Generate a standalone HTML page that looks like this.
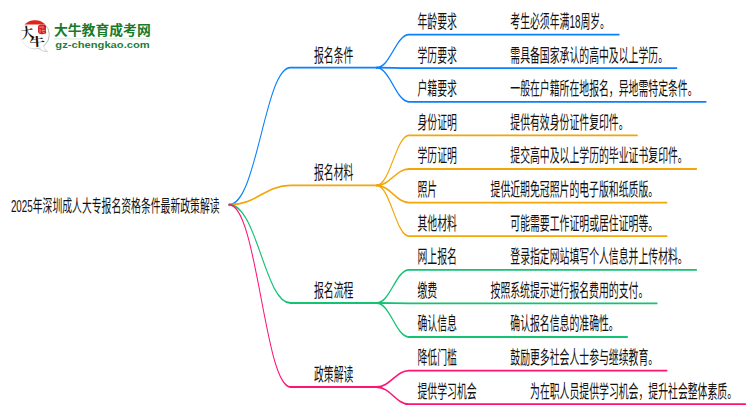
<!DOCTYPE html>
<html lang="zh-CN">
<head>
<meta charset="utf-8">
<title>2025年深圳成人大专报名资格条件最新政策解读</title>
<style>
html,body{margin:0;padding:0;background:#fff;}
body{width:750px;height:410px;position:relative;overflow:hidden;font-family:"Liberation Sans",sans-serif;}
svg{position:absolute;left:0;top:0;display:block;}
.t span{position:absolute;white-space:nowrap;color:transparent;line-height:1;overflow:hidden;height:12px;}
.ln path{fill:none;stroke-width:1.8;stroke-linecap:round;stroke-linejoin:round;}
.tx text{font-family:"Liberation Sans","Noto Sans CJK SC",sans-serif;fill:#111;}
</style>
</head>
<body>
<svg width="750" height="410" viewBox="0 0 750 410">
<g class="ln" transform="scale(0.55 1)">
<path d="M416.36 204.70 C467.80 204.70 481.22 67.70 528.18 67.70 L684.55 67.70" stroke="#0a80fc"/>
<path d="M684.55 67.70 C709.36 67.70 720.00 34.60 743.64 34.60 L1125.67 34.60" stroke="#0a80fc"/>
<path d="M684.55 67.70 C709.36 67.70 720.00 68.20 743.64 68.20 L1230.54 68.20" stroke="#0a80fc"/>
<path d="M684.55 67.70 C709.36 67.70 720.00 101.80 743.64 101.80 L1283.73 101.80" stroke="#0a80fc"/>
<path d="M416.36 204.70 C467.80 204.70 481.22 185.40 528.18 185.40 L684.55 185.40" stroke="#f2a60a"/>
<path d="M684.55 185.40 C709.36 185.40 720.00 135.40 743.64 135.40 L1158.76 135.40" stroke="#f2a60a"/>
<path d="M684.55 185.40 C709.36 185.40 720.00 169.00 743.64 169.00 L1266.43 169.00" stroke="#f2a60a"/>
<path d="M684.55 185.40 C709.36 185.40 720.00 202.60 743.64 202.60 L1212.59 202.60" stroke="#f2a60a"/>
<path d="M684.55 185.40 C709.36 185.40 720.00 236.20 743.64 236.20 L1212.59 236.20" stroke="#f2a60a"/>
<path d="M416.36 204.70 C467.80 204.70 481.22 303.00 528.18 303.00 L684.55 303.00" stroke="#14c274"/>
<path d="M684.55 303.00 C709.36 303.00 720.00 269.80 743.64 269.80 L1266.43 269.80" stroke="#14c274"/>
<path d="M684.55 303.00 C709.36 303.00 720.00 303.40 743.64 303.40 L1194.65 303.40" stroke="#14c274"/>
<path d="M684.55 303.00 C709.36 303.00 720.00 337.00 743.64 337.00 L1140.81 337.00" stroke="#14c274"/>
<path d="M416.36 204.70 C467.80 204.70 481.22 387.00 528.18 387.00 L684.55 387.00" stroke="#ff1476"/>
<path d="M684.55 387.00 C709.36 387.00 720.00 370.60 743.64 370.60 L1212.59 370.60" stroke="#ff1476"/>
<path d="M684.55 387.00 C709.36 387.00 720.00 404.20 743.64 404.20 L1355.51 404.20" stroke="#ff1476"/>
</g>
<g class="tx">
<text transform="translate(314.00 61.54) scale(0.5276 1)" font-size="18.7">报名条件</text>
<text transform="translate(417.50 28.04) scale(0.5276 1)" font-size="18.7">年龄要求</text>
<text transform="translate(510.28 28.04) scale(0.5276 1)" font-size="18.7">考生必须年满18周岁。</text>
<text transform="translate(417.50 61.64) scale(0.5276 1)" font-size="18.7">学历要求</text>
<text transform="translate(510.28 61.64) scale(0.5276 1)" font-size="18.7">需具备国家承认的高中及以上学历。</text>
<text transform="translate(417.50 95.24) scale(0.5276 1)" font-size="18.7">户籍要求</text>
<text transform="translate(510.28 95.24) scale(0.5276 1)" font-size="18.7">一般在户籍所在地报名，异地需特定条件。</text>
<text transform="translate(314.00 179.24) scale(0.5276 1)" font-size="18.7">报名材料</text>
<text transform="translate(417.50 128.84) scale(0.5276 1)" font-size="18.7">身份证明</text>
<text transform="translate(510.28 128.84) scale(0.5276 1)" font-size="18.7">提供有效身份证件复印件。</text>
<text transform="translate(417.50 162.44) scale(0.5276 1)" font-size="18.7">学历证明</text>
<text transform="translate(510.28 162.44) scale(0.5276 1)" font-size="18.7">提交高中及以上学历的毕业证书复印件。</text>
<text transform="translate(417.50 196.04) scale(0.5276 1)" font-size="18.7">照片</text>
<text transform="translate(490.54 196.04) scale(0.5276 1)" font-size="18.7">提供近期免冠照片的电子版和纸质版。</text>
<text transform="translate(417.50 229.64) scale(0.5276 1)" font-size="18.7">其他材料</text>
<text transform="translate(510.28 229.64) scale(0.5276 1)" font-size="18.7">可能需要工作证明或居住证明等。</text>
<text transform="translate(314.00 296.84) scale(0.5276 1)" font-size="18.7">报名流程</text>
<text transform="translate(417.50 263.24) scale(0.5276 1)" font-size="18.7">网上报名</text>
<text transform="translate(510.28 263.24) scale(0.5276 1)" font-size="18.7">登录指定网站填写个人信息并上传材料。</text>
<text transform="translate(417.50 296.84) scale(0.5276 1)" font-size="18.7">缴费</text>
<text transform="translate(490.54 296.84) scale(0.5276 1)" font-size="18.7">按照系统提示进行报名费用的支付。</text>
<text transform="translate(417.50 330.44) scale(0.5276 1)" font-size="18.7">确认信息</text>
<text transform="translate(510.28 330.44) scale(0.5276 1)" font-size="18.7">确认报名信息的准确性。</text>
<text transform="translate(314.00 380.84) scale(0.5276 1)" font-size="18.7">政策解读</text>
<text transform="translate(417.50 364.04) scale(0.5276 1)" font-size="18.7">降低门槛</text>
<text transform="translate(510.28 364.04) scale(0.5276 1)" font-size="18.7">鼓励更多社会人士参与继续教育。</text>
<text transform="translate(417.50 397.64) scale(0.5276 1)" font-size="18.7">提供学习机会</text>
<text transform="translate(530.02 397.64) scale(0.5276 1)" font-size="18.7">为在职人员提供学习机会，提升社会整体素质。</text>
<text transform="translate(10.90 211.60) scale(0.579 1)" font-size="17">2025年深圳成人大专报名资格条件最新政策解读</text>
</g>
<g class="logo">
<linearGradient id="bg" x1="0" y1="0" x2="1" y2="0.25"><stop offset="0" stop-color="#f4f4f4"/><stop offset="0.45" stop-color="#e6e6e6"/><stop offset="1" stop-color="#b9b9b9"/></linearGradient>
<path d="M43.20 45.50 q1.0 4.0 4.3 6.3 q-5.4 -0.3 -9.6 -3.6 z" fill="#fff" stroke="#c4c4c4" stroke-width="0.8" stroke-linejoin="round"/>
<circle cx="34.90" cy="34.60" r="14.40" fill="#fff" stroke="url(#bg)" stroke-width="1"/>
<path d="M43.00 44.90 q0.4 2.2 2.0 4.0 l-5.6 -1.6 z" fill="#fff"/>
<path d="M24.54 24.60 A14.80 14.80 0 0 1 45.26 24.60 Z" fill="#e2231b"/>
<path d="M38.72 25.17 Q42.00 24.02 45.28 24.98 Q46.51 25.65 46.02 28.15 Q45.61 30.45 46.26 32.76 Q45.94 34.10 43.31 34.00 Q41.02 34.58 38.88 33.52 Q37.57 32.37 38.06 29.30 Q37.57 26.04 38.72 25.17 Z" fill="#d31f20"/>
<path d="M39.70 27.09 L41.67 27.09 M42.98 26.23 L42.98 28.53 M40.03 29.49 L40.03 32.37 M42.16 30.45 L44.46 30.45 M42.82 31.99 L44.30 32.76" stroke="#f4b9b6" stroke-width="0.75" stroke-linecap="round" fill="none"/>
<text transform="translate(27.40 32.85) rotate(-8.0) scale(0.87 1)" x="0" y="4.7" text-anchor="middle" font-size="14.4" font-weight="bold" fill="#17100e" font-family="&quot;Liberation Serif&quot;,&quot;Noto Serif CJK SC&quot;,serif">大</text>
<text transform="translate(37.10 41.85) rotate(-4.0) scale(1.33 1)" x="0" y="4.2" text-anchor="middle" font-size="11.9" font-weight="bold" fill="#17100e" font-family="&quot;Liberation Serif&quot;,&quot;Noto Serif CJK SC&quot;,serif">牛</text>
<text transform="translate(53.90 34.60) scale(1.057 1)" font-size="13.1" font-weight="bold" fill="#187a2b" font-family="&quot;Liberation Sans&quot;,&quot;Noto Sans CJK SC&quot;,sans-serif">大牛教育成考网</text>
<path d="M54.00 38.90 H150.00" stroke="#d6e9d9" stroke-width="1"/>
<text x="55.30" y="48.10" font-size="9.6" font-weight="bold" fill="#1f8034" textLength="94.5" lengthAdjust="spacingAndGlyphs" font-family="&quot;Liberation Sans&quot;,sans-serif">gz-chengkao.com</text>
</g>
</svg>
<div class="t">
<span style="left:314.0px;top:42.8px;width:79.5px;font-size:11.2px">报名条件</span>
<span style="left:417.5px;top:9.3px;width:79.5px;font-size:11.2px">年龄要求</span>
<span style="left:510.3px;top:9.3px;width:140.2px;font-size:11.2px">考生必须年满18周岁。</span>
<span style="left:417.5px;top:42.9px;width:79.5px;font-size:11.2px">学历要求</span>
<span style="left:510.3px;top:42.9px;width:197.9px;font-size:11.2px">需具备国家承认的高中及以上学历。</span>
<span style="left:417.5px;top:76.5px;width:79.5px;font-size:11.2px">户籍要求</span>
<span style="left:510.3px;top:76.5px;width:227.2px;font-size:11.2px">一般在户籍所在地报名，异地需特定条件。</span>
<span style="left:314.0px;top:160.5px;width:79.5px;font-size:11.2px">报名材料</span>
<span style="left:417.5px;top:110.1px;width:79.5px;font-size:11.2px">身份证明</span>
<span style="left:510.3px;top:110.1px;width:158.4px;font-size:11.2px">提供有效身份证件复印件。</span>
<span style="left:417.5px;top:143.7px;width:79.5px;font-size:11.2px">学历证明</span>
<span style="left:510.3px;top:143.7px;width:217.7px;font-size:11.2px">提交高中及以上学历的毕业证书复印件。</span>
<span style="left:417.5px;top:177.3px;width:59.7px;font-size:11.2px">照片</span>
<span style="left:490.5px;top:177.3px;width:207.8px;font-size:11.2px">提供近期免冠照片的电子版和纸质版。</span>
<span style="left:417.5px;top:210.9px;width:79.5px;font-size:11.2px">其他材料</span>
<span style="left:510.3px;top:210.9px;width:188.0px;font-size:11.2px">可能需要工作证明或居住证明等。</span>
<span style="left:314.0px;top:278.1px;width:79.5px;font-size:11.2px">报名流程</span>
<span style="left:417.5px;top:244.5px;width:79.5px;font-size:11.2px">网上报名</span>
<span style="left:510.3px;top:244.5px;width:217.7px;font-size:11.2px">登录指定网站填写个人信息并上传材料。</span>
<span style="left:417.5px;top:278.1px;width:59.7px;font-size:11.2px">缴费</span>
<span style="left:490.5px;top:278.1px;width:197.9px;font-size:11.2px">按照系统提示进行报名费用的支付。</span>
<span style="left:417.5px;top:311.7px;width:79.5px;font-size:11.2px">确认信息</span>
<span style="left:510.3px;top:311.7px;width:148.6px;font-size:11.2px">确认报名信息的准确性。</span>
<span style="left:314.0px;top:362.1px;width:79.5px;font-size:11.2px">政策解读</span>
<span style="left:417.5px;top:345.3px;width:79.5px;font-size:11.2px">降低门槛</span>
<span style="left:510.3px;top:345.3px;width:188.0px;font-size:11.2px">鼓励更多社会人士参与继续教育。</span>
<span style="left:417.5px;top:378.9px;width:99.2px;font-size:11.2px">提供学习机会</span>
<span style="left:530.0px;top:378.9px;width:246.9px;font-size:11.2px">为在职人员提供学习机会，提升社会整体素质。</span>
<span style="left:10.9px;top:194.6px;width:249.7px;font-size:10.2px">2025年深圳成人大专报名资格条件最新政策解读</span>
<span style="left:53.9px;top:21.5px;width:136.9px;font-size:7.9px">大牛教育成考网</span>
<span style="left:55.3px;top:38.5px;width:134.9px;font-size:5.8px">gz-chengkao.com</span>
</div>
</body>
</html>
